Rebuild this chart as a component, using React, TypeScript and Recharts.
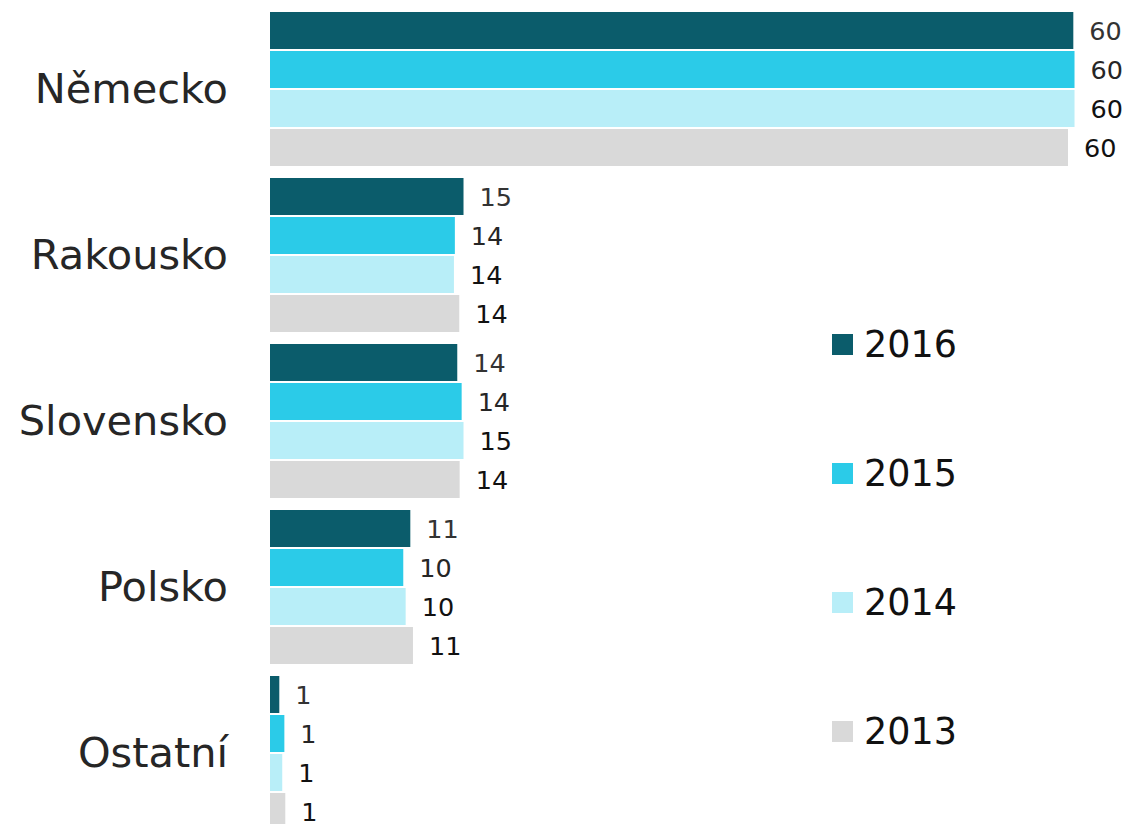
import React from "react";
import { BarChart, Bar, XAxis, YAxis, LabelList } from "recharts";

// categories (top to bottom)
const countries = ["Německo", "Rakousko", "Slovensko", "Polsko", "Ostatní"];

// shares per year (labels are rounded)
const y2016 = [60.4, 14.55, 14.08, 10.55, 0.7];
const y2015 = [60.49, 13.9, 14.41, 10.02, 1.08];
const y2014 = [60.49, 13.83, 14.55, 10.2, 0.92];
const y2013 = [60.0, 14.23, 14.26, 10.75, 1.15];

const years = ["2016", "2015", "2014", "2013"];
const colors = ["#0b5c6b", "#2bcbe8", "#b8eef8", "#d9d9d9"];
const labelColors = ["#333333", "#262626", "#111111", "#111111"];

const data = countries.map((name, i) => ({
  name,
  "2016": y2016[i],
  "2015": y2015[i],
  "2014": y2014[i],
  "2013": y2013[i],
}));

const FONT = "'DejaVu Sans', Verdana, sans-serif";

// legend sits to the right of the short bars, not below the plot
const LegendBox = () => (
  <div
    style={{
      position: "absolute",
      left: 832,
      top: 279.5,
      width: 200,
      fontFamily: FONT,
    }}
  >
    {years.map((y, i) => (
      <div key={y} style={{ height: 129, display: "flex", alignItems: "center" }}>
        <span
          style={{
            display: "inline-block",
            width: 21,
            height: 21,
            background: colors[i],
            marginRight: 11,
          }}
        />
        <span style={{ fontSize: 36.5, color: "#111" }}>{y}</span>
      </div>
    ))}
  </div>
);

const App = () => {
  return (
    <div
      style={{
        position: "absolute",
        left: 0,
        top: 0,
        width: 1129,
        height: 824,
        overflow: "hidden",
        background: "#fff",
      }}
    >
      <BarChart
        width={1129}
        height={840}
        data={data}
        layout="vertical"
        margin={{ top: 5.5, right: 47.7, bottom: 4.5, left: 0 }}
        barCategoryGap={6.5}
        barGap={2}
      >
        <XAxis type="number" domain={[0, 61]} hide />
        <YAxis
          type="category"
          dataKey="name"
          width={270}
          axisLine={false}
          tickLine={false}
          tickSize={0}
          tickMargin={42}
          tick={{ fontSize: 41.5, fill: "#262626", fontFamily: FONT }}
        />
        {years.map((y, i) => (
          <Bar key={y} dataKey={y} name={y} fill={colors[i]} isAnimationActive={false}>
            <LabelList
              dataKey={y}
              position="right"
              offset={16}
              formatter={(v: any) => Math.round(Number(v))}
              style={{ fontSize: 25.5, fill: labelColors[i], fontFamily: FONT }}
            />
          </Bar>
        ))}
      </BarChart>
      <LegendBox />
    </div>
  );
};

export default App;
